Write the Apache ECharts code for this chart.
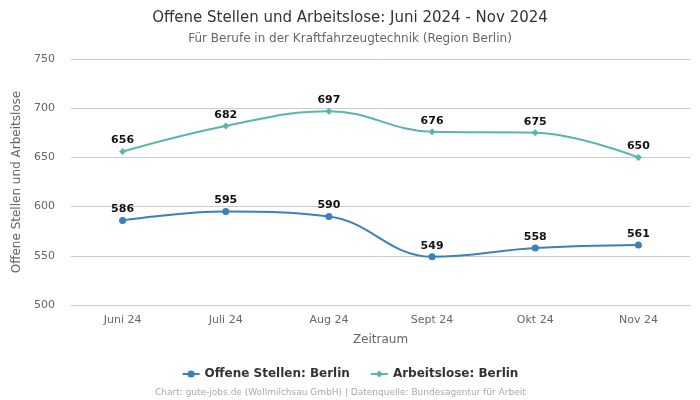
<!DOCTYPE html>
<html><head><meta charset="utf-8">
<script src="https://cdn.jsdelivr.net/npm/echarts@6/dist/echarts.min.js"></script>
<style>html,body{margin:0;padding:0;background:#fff}#c{width:700px;height:400px}</style>
</head><body><div id="c"></div>
<script>
const categories = ["Juni 24","Juli 24","Aug 24","Sept 24","Okt 24","Nov 24"];
const offeneStellen = [586,595,590,549,558,561];
const arbeitslose = [656,682,697,676,675,650];
const seriesNames = ["Offene Stellen: Berlin","Arbeitslose: Berlin"];
const colors = ["#3a80ba","#5bb5ad"];
const font = "DejaVu Sans";
const chart = echarts.init(document.getElementById('c'));
chart.setOption({
  animation:false,
  textStyle:{fontFamily:font},
  title:{text:"Offene Stellen und Arbeitslose: Juni 2024 - Nov 2024",
    subtext:"Für Berufe in der Kraftfahrzeugtechnik (Region Berlin)",
    left:'center', top:6,
    textStyle:{fontFamily:font,fontSize:15,fontWeight:'normal',color:'#333'},
    subtextStyle:{fontFamily:font,fontSize:12,color:'#666'}, itemGap:7},
  grid:{left:71,right:10,top:59,bottom:95},
  legend:{bottom:15,itemGap:20,itemWidth:17,itemHeight:9,
    textStyle:{fontFamily:font,fontSize:12,fontWeight:'bold',color:'#333'},
    data:seriesNames},
  graphic:[{type:'text',left:155,bottom:3,style:{text:"Chart: gute-jobs.de (Wollmilchsau GmbH) | Datenquelle: Bundesagentur für Arbeit",fontFamily:font,fontSize:9,fill:'#aaa'}}],
  xAxis:{type:'category',data:categories,name:'Zeitraum',nameLocation:'middle',nameGap:29,
    nameTextStyle:{fontFamily:font,fontSize:12,color:'#666'},
    axisLine:{lineStyle:{color:'#ccc'}},axisTick:{show:false},
    axisLabel:{color:'#666',fontSize:11,margin:10}},
  yAxis:{type:'value',min:500,max:750,interval:50,name:'Offene Stellen und Arbeitslose',
    nameLocation:'middle',nameGap:42,nameTextStyle:{fontFamily:font,fontSize:12,color:'#666'},
    axisLabel:{color:'#666',fontSize:11,margin:16},
    splitLine:{lineStyle:{color:'#ccc'}},axisLine:{show:false}},
  series:[
    {name:seriesNames[0],type:'line',data:offeneStellen,smooth:0.4,symbol:'circle',symbolSize:7,
     itemStyle:{color:colors[0]},lineStyle:{width:2,color:colors[0]},
     label:{show:true,position:'top',distance:2,fontWeight:'bold',fontSize:11,color:'#111',fontFamily:font}},
    {name:seriesNames[1],type:'line',data:arbeitslose,smooth:0.4,symbol:'diamond',symbolSize:7,
     itemStyle:{color:colors[1]},lineStyle:{width:2,color:colors[1]},
     label:{show:true,position:'top',distance:2,fontWeight:'bold',fontSize:11,color:'#111',fontFamily:font}}
  ]
});
</script></body></html>
